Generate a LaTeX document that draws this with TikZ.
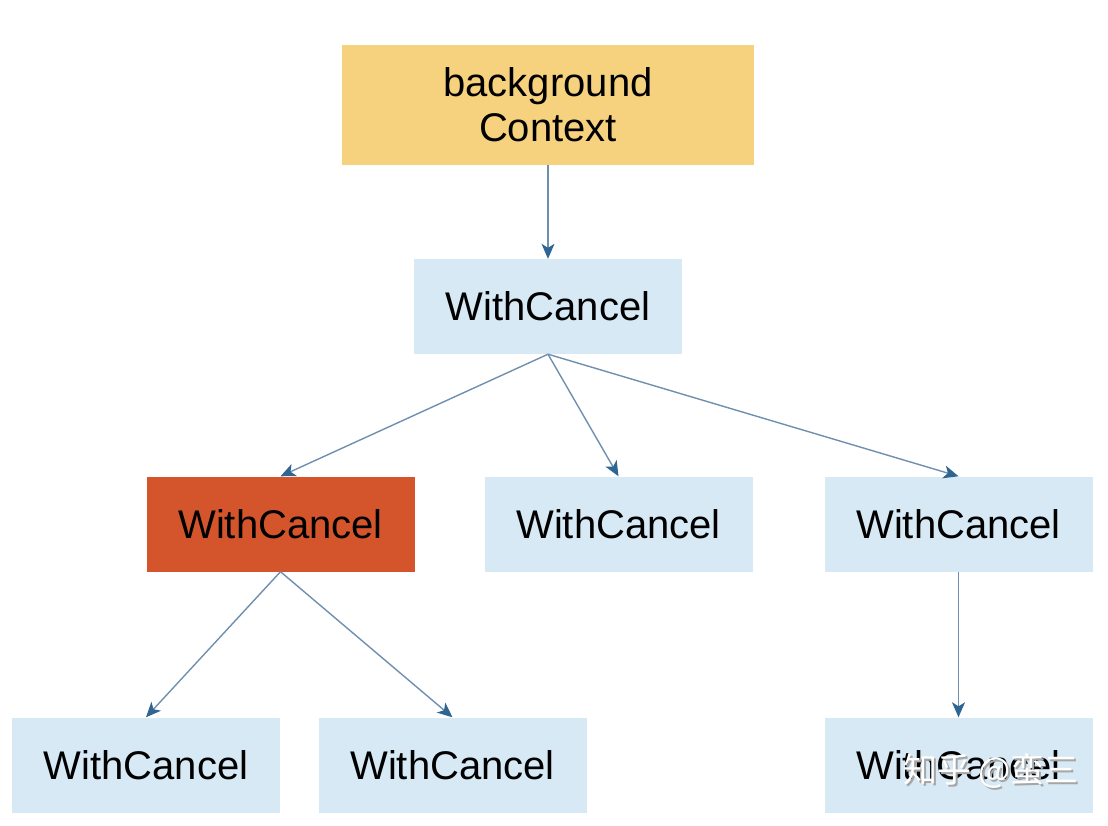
\documentclass[tikz,border=0pt]{standalone}
\usepackage{fontspec}
\setmainfont{Liberation Sans}
\newfontfamily\cjkfont{Noto Sans CJK SC}
\usetikzlibrary{arrows.meta}
\definecolor{ctxyellow}{HTML}{F6D27E}
\definecolor{cancelblue}{HTML}{D6E9F5}
\definecolor{cancelred}{HTML}{D4552B}
\definecolor{linkline}{HTML}{6F8FAF}
\definecolor{linkhead}{HTML}{2F6592}
\tikzset{
  ctxbox/.style={fill=ctxyellow, minimum width=412pt, minimum height=120pt,
    align=center, font=\fontsize{40}{45}\selectfont},
  cancelbox/.style={fill=cancelblue, minimum width=268pt, minimum height=95pt,
    font=\fontsize{40}{46}\selectfont},
  link/.style={draw=linkline, line width=1.4pt,
    -{Stealth[length=15pt,width=13pt,inset=4pt,color=linkhead]}}
}
\begin{document}
\begin{tikzpicture}[x=1pt,y=-1pt]
    \useasboundingbox (0,0) rectangle (1108,826) ;
    % root
    \node[ctxbox] (bg) at (548,105) {background\\Context} ;
    \node[cancelbox] (top) at (548,306.5) {WithCancel} ;
    % second row
    \node[cancelbox, fill=cancelred] (red) at (280.5,524) {WithCancel} ;
    \node[cancelbox] (mid) at (618.5,524) {WithCancel} ;
    \node[cancelbox] (right) at (958.5,524) {WithCancel} ;
    % third row
    \node[cancelbox] (redl) at (146,765) {WithCancel} ;
    \node[cancelbox] (redr) at (452.5,765) {WithCancel} ;
    \node[cancelbox] (rightb) at (958.5,765) {WithCancel} ;
    \draw[link] (bg.south) -- (top.north) ;
    \draw[link] (top.south) -- (red.north) ;
    \draw[link] (top.south) -- (mid.north) ;
    \draw[link] (top.south) -- (right.north) ;
    \draw[link] (red.south) -- (redl.north) ;
    \draw[link] (red.south) -- (redr.north) ;
    \draw[link] (right.south) -- (rightb.north) ;
    % watermark
    \node[text=black!35, font=\cjkfont\fontsize{34}{36}\selectfont] at (993,772.5) {知乎 @蛮三} ;
    \node[text=white, font=\cjkfont\fontsize{34}{36}\selectfont] (mark) at (991,770.5) {知乎 @蛮三} ;
\end{tikzpicture}
\end{document}
